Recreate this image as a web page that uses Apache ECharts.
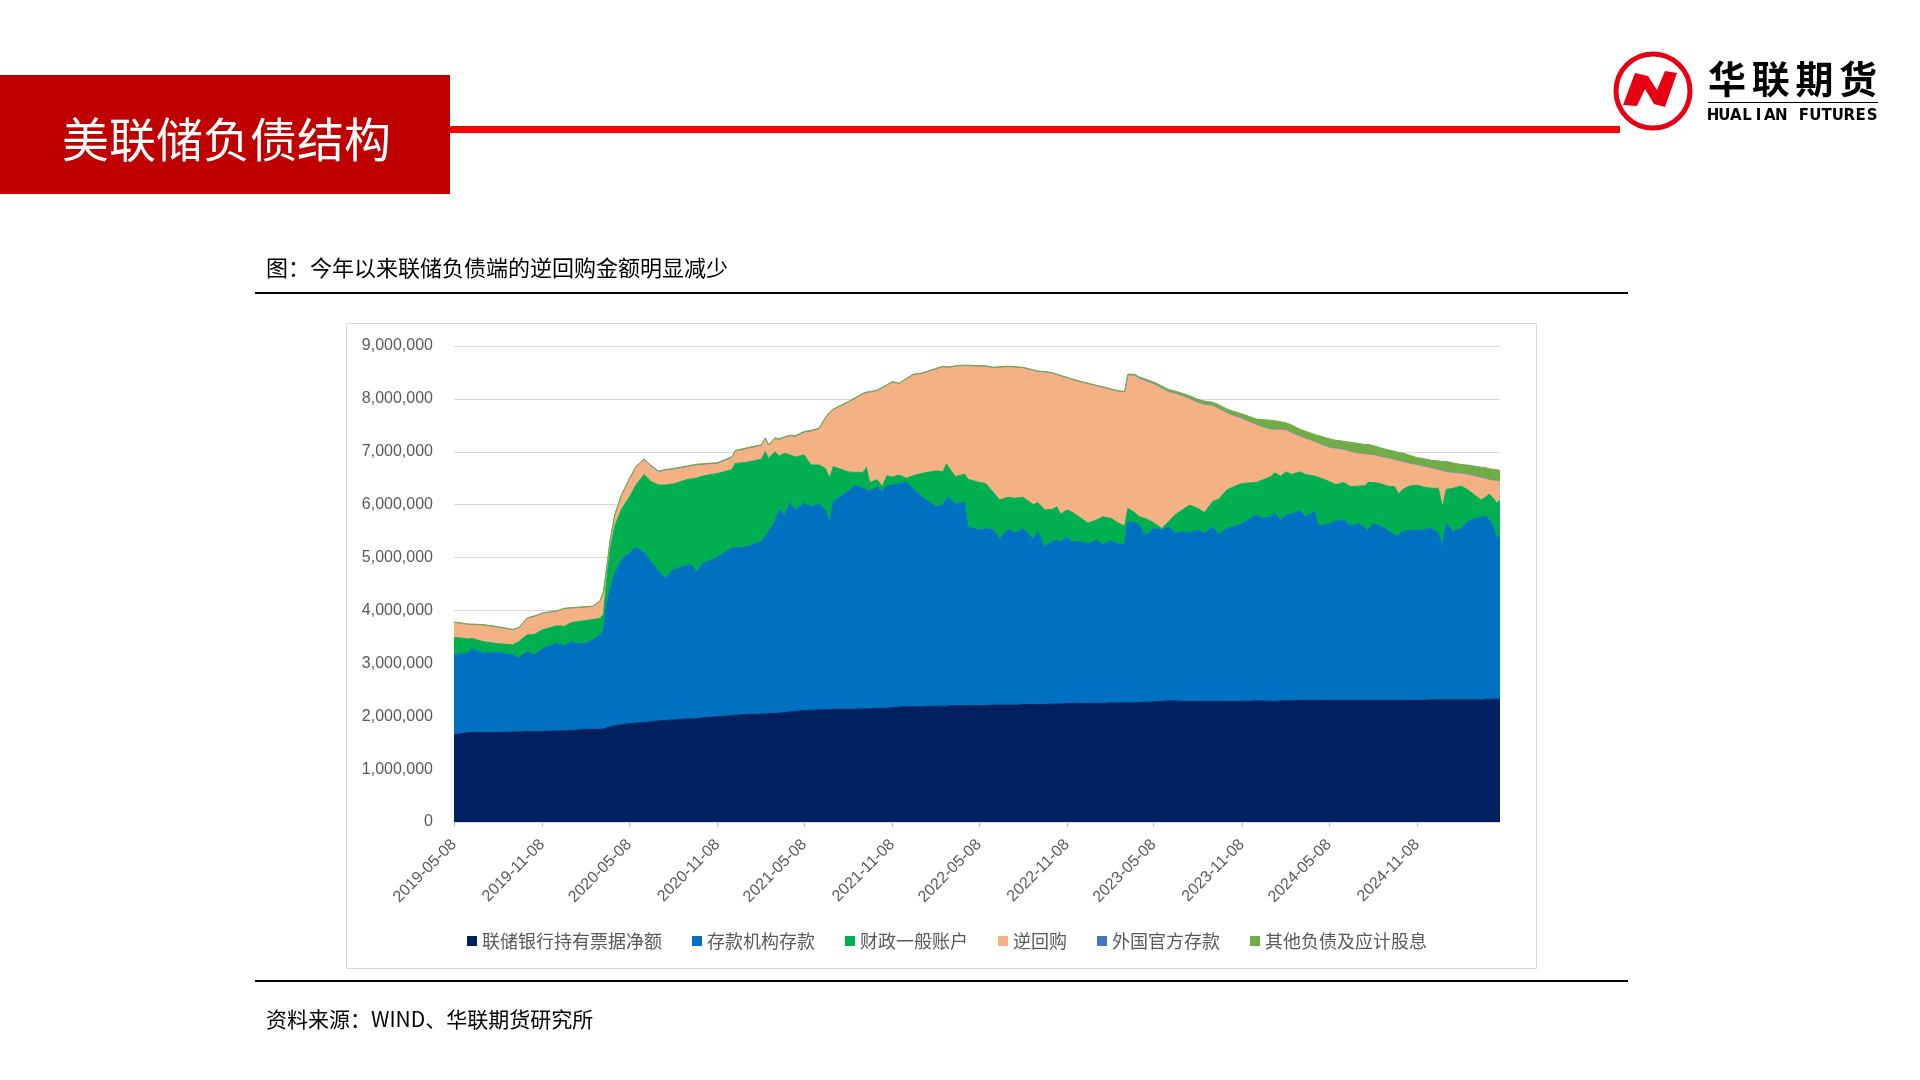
<!DOCTYPE html>
<html><head><meta charset="utf-8">
<script src="https://cdn.jsdelivr.net/npm/echarts@6/dist/echarts.min.js"></script>
<style>html,body{margin:0;padding:0;background:#fff;}#c{width:1920px;height:1080px;}</style>
</head><body><div id="c"></div>
<script>
// ---------------- data (百万美元) ----------------
const dates = [
'2019-05-08','2019-06-08','2019-06-15','2019-07-08','2019-08-08','2019-09-08','2019-09-20','2019-10-08','2019-10-22','2019-11-08',
'2019-12-08','2019-12-25','2020-01-08','2020-01-22','2020-02-08','2020-02-22','2020-03-08','2020-03-15','2020-03-22','2020-03-29',
'2020-04-08','2020-04-22','2020-05-08','2020-05-22','2020-06-08','2020-06-22','2020-07-08','2020-07-22','2020-08-08','2020-09-08',
'2020-09-18','2020-09-25','2020-10-08','2020-11-08','2020-12-08','2020-12-15','2021-01-08','2021-02-08','2021-02-16','2021-02-23',
'2021-03-08','2021-03-17','2021-03-28','2021-04-08','2021-04-20','2021-05-08','2021-05-22','2021-06-08','2021-06-22','2021-06-30',
'2021-07-08','2021-08-08','2021-08-22','2021-09-08','2021-09-15','2021-09-22','2021-10-08','2021-10-18','2021-10-28','2021-11-08',
'2021-11-22','2021-12-08','2021-12-22','2022-01-08','2022-02-08','2022-02-22','2022-03-01','2022-03-08','2022-03-20','2022-04-08',
'2022-04-15','2022-05-08','2022-05-22','2022-06-08','2022-06-20','2022-07-08','2022-07-22','2022-08-08','2022-08-30','2022-09-08',
'2022-09-22','2022-10-08','2022-10-18','2022-10-25','2022-11-08','2022-11-18','2022-12-08','2022-12-22','2023-01-08','2023-01-22',
'2023-02-08','2023-02-22','2023-03-08','2023-03-15','2023-03-29','2023-04-08','2023-04-20','2023-05-08','2023-05-25','2023-06-08',
'2023-06-22','2023-07-08','2023-07-22','2023-08-08','2023-08-22','2023-09-08','2023-09-20','2023-10-08','2023-10-22','2023-11-08',
'2023-12-08','2023-12-20','2024-01-08','2024-01-15','2024-01-28','2024-02-08','2024-02-20','2024-03-08','2024-03-20','2024-04-08',
'2024-04-15','2024-05-08','2024-05-22','2024-06-08','2024-06-22','2024-07-08','2024-07-22','2024-07-28','2024-08-08','2024-08-22',
'2024-09-08','2024-09-22','2024-09-30','2024-10-08','2024-10-22','2024-11-08','2024-11-22','2024-12-08','2024-12-22','2024-12-31',
'2025-01-08','2025-01-22','2025-02-08','2025-02-22','2025-03-08','2025-03-22','2025-04-01','2025-04-08','2025-04-16','2025-04-23',
'2025-04-30'];

// 联储银行持有票据净额
const fedNotes = [
1650000,1690000,1690000,1690000,1690000,1700000,1700000,1710000,1710000,1710000,
1720000,1720000,1730000,1740000,1750000,1750000,1750000,1760000,1780000,1800000,
1820000,1840000,1860000,1870000,1880000,1890000,1910000,1920000,1930000,1950000,
1950000,1950000,1970000,1990000,2010000,2020000,2030000,2040000,2040000,2050000,
2050000,2060000,2070000,2080000,2090000,2110000,2110000,2120000,2120000,2120000,
2130000,2130000,2130000,2140000,2140000,2140000,2150000,2150000,2150000,2160000,
2170000,2180000,2180000,2180000,2190000,2190000,2190000,2200000,2200000,2200000,
2200000,2200000,2200000,2210000,2210000,2210000,2210000,2220000,2220000,2220000,
2220000,2230000,2230000,2230000,2240000,2240000,2240000,2240000,2240000,2240000,
2250000,2250000,2250000,2250000,2250000,2260000,2260000,2270000,2280000,2290000,
2290000,2280000,2280000,2280000,2280000,2280000,2280000,2280000,2280000,2280000,
2290000,2290000,2280000,2280000,2290000,2290000,2290000,2300000,2300000,2300000,
2300000,2300000,2300000,2300000,2300000,2300000,2300000,2300000,2300000,2300000,
2300000,2300000,2300000,2300000,2300000,2300000,2300000,2310000,2310000,2310000,
2310000,2310000,2310000,2310000,2310000,2310000,2320000,2320000,2320000,2320000,
2320000];

// 存款机构存款
const depository = [
1510000,1510000,1590000,1500000,1520000,1460000,1400000,1510000,1450000,1560000,
1660000,1610000,1680000,1630000,1630000,1690000,1790000,1870000,2360000,2600000,
2880000,3120000,3220000,3320000,3220000,3030000,2830000,2690000,2840000,2910000,
2890000,2770000,2910000,3020000,3170000,3160000,3170000,3260000,3360000,3450000,
3630000,3850000,3720000,3950000,3810000,3920000,3850000,3890000,3780000,3530000,
3930000,4120000,4240000,4170000,4140000,4110000,4190000,4100000,4210000,4210000,
4230000,4240000,4120000,3970000,3770000,3810000,3930000,3930000,3810000,3840000,
3380000,3320000,3350000,3310000,3140000,3330000,3250000,3330000,3130000,3270000,
2990000,3070000,3100000,3070000,3160000,3060000,3060000,3020000,3090000,3000000,
3070000,3010000,2990000,3430000,3410000,3360000,3150000,3280000,3240000,3290000,
3180000,3210000,3190000,3240000,3180000,3300000,3160000,3270000,3300000,3360000,
3520000,3450000,3490000,3570000,3420000,3520000,3530000,3590000,3480000,3570000,
3300000,3340000,3390000,3410000,3300000,3340000,3260000,3210000,3340000,3300000,
3210000,3130000,3110000,3190000,3220000,3210000,3230000,3240000,3160000,2900000,
3340000,3180000,3240000,3370000,3430000,3450000,3470000,3390000,3280000,3060000,
3080000];

// 财政一般账户
const treasuryGA = [
330000,260000,190000,220000,160000,190000,310000,320000,380000,360000,
330000,370000,360000,420000,430000,390000,310000,300000,460000,750000,
900000,960000,1060000,1180000,1470000,1520000,1630000,1760000,1620000,1620000,
1650000,1780000,1660000,1580000,1480000,1600000,1600000,1560000,1600000,1370000,
1320000,1010000,1180000,910000,1000000,910000,790000,740000,780000,850000,
660000,370000,240000,300000,420000,170000,130000,90000,190000,150000,
160000,80000,250000,440000,680000,620000,650000,550000,520000,540000,
900000,900000,850000,700000,740000,600000,660000,590000,650000,550000,
690000,610000,630000,520000,500000,560000,440000,390000,380000,530000,
420000,400000,350000,250000,190000,150000,330000,110000,30000,100000,
340000,420000,520000,410000,390000,480000,660000,730000,760000,760000,
610000,720000,760000,750000,830000,810000,750000,730000,790000,670000,
920000,800000,690000,710000,740000,710000,800000,910000,780000,800000,
840000,910000,790000,790000,830000,860000,800000,760000,840000,750000,
640000,820000,800000,600000,440000,330000,360000,490000,520000,650000,
690000];

// 逆回购
const reverseRepo = [
280000,270000,260000,310000,310000,280000,250000,310000,340000,310000,
270000,330000,270000,260000,250000,240000,320000,400000,200000,150000,
200000,250000,330000,330000,270000,280000,240000,270000,270000,230000,
240000,240000,210000,180000,220000,220000,250000,250000,240000,240000,
240000,300000,290000,350000,380000,420000,630000,670000,950000,1220000,
1070000,1310000,1390000,1480000,1410000,1700000,1680000,1860000,1700000,1790000,
1720000,1870000,1900000,1880000,1920000,1980000,1820000,1910000,2080000,2040000,
2140000,2190000,2210000,2360000,2500000,2460000,2470000,2440000,2530000,2470000,
2600000,2570000,2490000,2610000,2490000,2500000,2570000,2630000,2530000,2440000,
2430000,2480000,2530000,2510000,2590000,2610000,2600000,2620000,2650000,2450000,
2290000,2140000,2010000,2000000,2040000,1810000,1720000,1450000,1340000,1230000,
1090000,1010000,890000,820000,880000,790000,790000,670000,680000,650000,
640000,640000,680000,620000,660000,620000,600000,530000,520000,510000,
530000,510000,630000,530000,430000,380000,390000,380000,350000,680000,
330000,290000,240000,290000,360000,420000,340000,270000,340000,420000,
350000];

// 外国官方存款
const foreignOfficial = [
5000,5000,5000,5000,5000,5000,5000,5000,5000,5000,
5000,5000,5000,5000,5000,5000,5000,16000,16000,16000,
16000,16000,16000,16000,16000,16000,16000,16000,16000,16000,
16000,16000,16000,16000,16000,16000,16000,16000,16000,16000,
16000,16000,16000,16000,16000,16000,16000,16000,16000,16000,
10000,10000,10000,10000,10000,10000,10000,10000,10000,10000,
10000,10000,10000,10000,10000,10000,10000,10000,10000,10000,
10000,10000,10000,10000,10000,10000,10000,10000,10000,10000,
10000,10000,10000,10000,10000,10000,10000,10000,10000,10000,
10000,10000,10000,8000,8000,8000,8000,8000,8000,8000,
8000,8000,8000,8000,8000,8000,8000,8000,8000,8000,
8000,8000,8000,8000,8000,8000,8000,8000,8000,8000,
8000,8000,8000,8000,8000,8000,8000,8000,8000,8000,
8000,8000,8000,8000,8000,8000,8000,8000,8000,8000,
8000,8000,8000,8000,8000,8000,8000,8000,8000,8000,
8000];

// 其他负债及应计股息
const otherLiab = [
8000,8000,8000,8000,8000,8000,8000,8000,8000,8000,
8000,8000,8000,8000,8000,8000,8000,8000,8000,8000,
8000,8000,8000,8000,8000,8000,8000,8000,8000,8000,
8000,8000,8000,8000,8000,8000,8000,8000,8000,8000,
8000,8000,8000,8000,8000,8000,8000,8000,8000,8000,
8000,8000,8000,8000,8000,8000,8000,8000,8000,8000,
8000,8000,8000,8000,8000,8000,8000,8000,8000,8000,
8000,8000,8000,8000,8000,8000,8000,8000,8000,8000,
8000,8000,8000,8000,8000,8000,8000,8000,8000,8000,
8000,8000,8000,20000,20000,25000,30000,30000,35000,40000,
40000,45000,50000,55000,60000,60000,65000,70000,75000,80000,
100000,130000,170000,160000,140000,130000,140000,130000,130000,130000,
140000,160000,150000,150000,170000,180000,170000,180000,170000,160000,
150000,150000,150000,160000,150000,130000,140000,140000,160000,170000,
190000,180000,160000,170000,180000,190000,200000,200000,200000,200000,
200000];

const seriesNames = ['联储银行持有票据净额','存款机构存款','财政一般账户','逆回购','外国官方存款','其他负债及应计股息'];
const seriesColors = ['#002060','#0070C0','#00B050','#F4B183','#4472C4','#70AD47'];
const tickDates = ['2019-05-08','2019-11-08','2020-05-08','2020-11-08','2021-05-08','2021-11-08',
                   '2022-05-08','2022-11-08','2023-05-08','2023-11-08','2024-05-08','2024-11-08'];
const yMin = 0, yMax = 9000000, yStep = 1000000;

// ---------------- chart ----------------
const ts = s => { const p = s.split('-').map(Number); return Date.UTC(p[0], p[1]-1, p[2]); };
const fmtDate = v => { const d = new Date(v); const p = n => (n < 10 ? '0' : '') + n;
  return d.getUTCFullYear() + '-' + p(d.getUTCMonth()+1) + '-' + p(d.getUTCDate()); };
const allSeries = [fedNotes, depository, treasuryGA, reverseRepo, foreignOfficial, otherLiab];
const lineWidths = [1, 1, 1, 1, 0.5, 1];
const chart = echarts.init(document.getElementById('c'), null, {renderer:'canvas', width:1920, height:1080});

const cjk = '"Noto Sans CJK SC", "Noto Sans", sans-serif';
const txt = (text, x, y, size, color, extra) => ({
  type:'text', x:x, y:y, silent:true,
  style:Object.assign({text:text, fill:color, fontSize:size, fontFamily:cjk,
    textAlign:'left', textVerticalAlign:'middle'}, extra||{})
});

const graphics = [
  {type:'rect', shape:{x:0,y:75,width:450,height:119}, style:{fill:'#C00000'}, silent:true},
  {type:'rect', shape:{x:450,y:126,width:1170,height:7}, style:{fill:'#FF0000'}, silent:true},
  txt('美联储负债结构', 62, 139, 47, '#FFFFFF'),
  {type:'circle', shape:{cx:1653, cy:91, r:37}, style:{fill:'none', stroke:'#E60012', lineWidth:5}, silent:true},
  {type:'polygon', shape:{points:[[1623,105],[1635,73],[1648,76],[1657,90],[1665,71],[1677,73],[1665,107],[1654,104],[1645,89],[1637,106]]},
   style:{fill:'#E60012'}, silent:true},
  {type:'line', shape:{x1:1708,y1:102.5,x2:1878,y2:102.5}, style:{stroke:'#000', lineWidth:1}, silent:true},
  txt('图：今年以来联储负债端的逆回购金额明显减少', 266, 268, 22, '#000000'),
  {type:'rect', shape:{x:255,y:292,width:1373,height:2}, style:{fill:'#000'}, silent:true},
  {type:'rect', shape:{x:255,y:980,width:1373,height:2}, style:{fill:'#000'}, silent:true},
  txt('资料来源：WIND、华联期货研究所', 266, 1019, 21, '#000000'),
  {type:'rect', shape:{x:346.5,y:323.5,width:1190,height:645}, style:{fill:'none', stroke:'#D9D9D9', lineWidth:1}, silent:true}
];
'华联期货'.split('').forEach((ch, i) => {
  graphics.push(txt(ch, 1727 + i*43.7, 79, 38, '#000000', {fontWeight:'bold', textAlign:'center'}));
});
'HUALIAN FUTURES'.split('').forEach((ch, i) => {
  if (ch !== ' ') graphics.push(txt(ch, 1713 + i*11.36, 116, 15, '#000000',
    {fontWeight:'bold', fontFamily:'"DejaVu Sans", sans-serif', textAlign:'center'}));
});

const tickVals = tickDates.map(ts);
const xMin = ts(dates[0]), xMax = ts(dates[dates.length-1]);
const option = {
  backgroundColor:'#FFFFFF',
  animation:false,
  textStyle:{fontFamily:cjk},
  grid:{left:454, right:420, top:346, bottom:258},
  legend:{
    data:seriesNames, left:462, top:927, icon:'rect', itemWidth:10, itemHeight:10, itemGap:30,
    textStyle:{fontSize:18, color:'#595959', fontFamily:cjk}
  },
  xAxis:[
    { // data axis (time)
      type:'time', min:xMin, max:xMax, position:'bottom',
      axisLine:{show:true, lineStyle:{color:'#D9D9D9', width:1}},
      axisTick:{show:false}, axisLabel:{show:false}, splitLine:{show:false}
    },
    { // label axis: same extent, ticks at the reference's half-year dates
      type:'value', min:xMin, max:xMax, position:'bottom',
      axisLine:{show:false, onZero:false},
      axisTick:{show:true, customValues:tickVals, length:5, lineStyle:{color:'#BFBFBF'}},
      axisLabel:{customValues:tickVals, rotate:45, color:'#595959', fontSize:16, margin:20,
        fontFamily:'"Liberation Sans", sans-serif', formatter:v => fmtDate(v)},
      splitLine:{show:false}
    }
  ],
  yAxis:{
    type:'value', min:yMin, max:yMax, interval:yStep,
    axisLine:{show:false}, axisTick:{show:false},
    splitLine:{lineStyle:{color:'#D9D9D9', width:1}},
    axisLabel:{color:'#595959', fontSize:16, margin:21, fontFamily:'"Liberation Sans", sans-serif',
      formatter:v => Number(v).toLocaleString('en-US')}
  },
  series: allSeries.map((arr, k) => ({
    name:seriesNames[k], type:'line', stack:'total', symbol:'none', showSymbol:false,
    xAxisIndex:0,
    lineStyle:{width:lineWidths[k], color:seriesColors[k]},
    itemStyle:{color:seriesColors[k]},
    areaStyle:{color:seriesColors[k], opacity:1},
    emphasis:{disabled:true},
    data:dates.map((d, i) => [ts(d), arr[i]])
  })),
  graphic:graphics
};
chart.setOption(option);
</script>
</body></html>
